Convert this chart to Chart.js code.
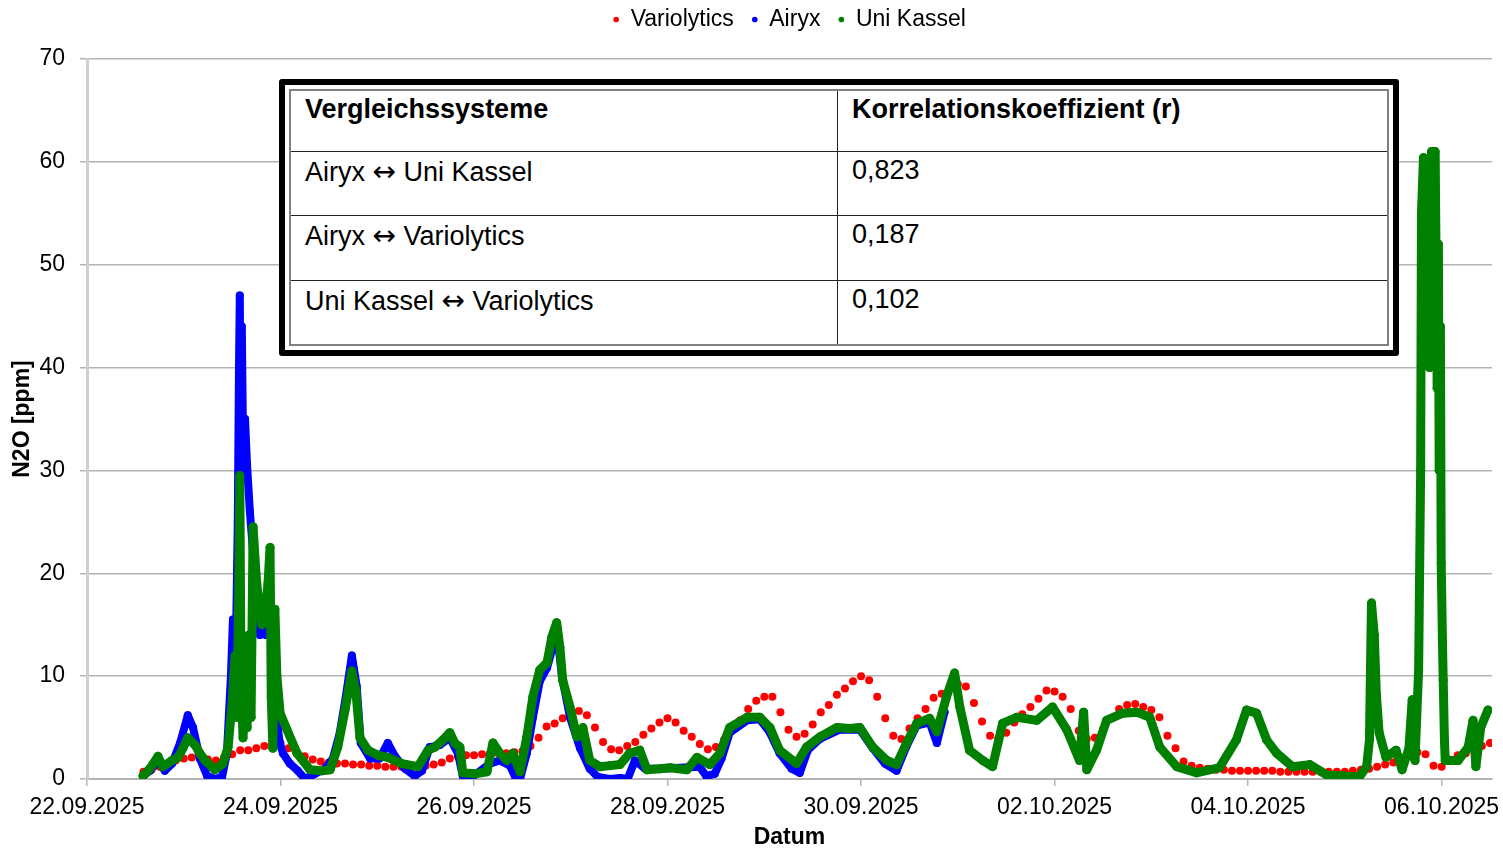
<!DOCTYPE html>
<html>
<head>
<meta charset="utf-8">
<script src="https://cdn.jsdelivr.net/npm/chart.js@4"></script>
<style>
  html, body { margin: 0; padding: 0; background: #fff; }
  #wrap { position: relative; width: 1503px; height: 849px; }
  #tabelle {
    position: absolute; left: 279px; top: 79px; width: 1120px; height: 277px;
    box-sizing: border-box; border: 6px solid #000; border-radius: 3px;
    background: #fff; padding: 4px;
  }
  #tabelle table {
    width: 100%; height: 100%; border-collapse: collapse; border: 2px solid #808080;
    font-family: 'Liberation Sans', Arial, sans-serif; font-size: 27px; color: #000;
  }
  #tabelle td, #tabelle th {
    border: 1.5px solid #222; vertical-align: top; text-align: left;
    padding: 3px 14px; font-weight: normal;
  }
  #tabelle th { font-weight: bold; }
  #tabelle .pfeil { font-family: 'DejaVu Sans', sans-serif; font-size: 28px; }
</style>
</head>
<body>
<div id="wrap">
  <canvas id="diagramm" width="1503" height="849"></canvas>
  <div id="tabelle"></div>
</div>
<script>
// ---------------- Daten (Stunden ab 22.09.2025 00:00) ----------------

const datumLabels = ['22.09.2025', '24.09.2025', '26.09.2025', '28.09.2025',
                     '30.09.2025', '02.10.2025', '04.10.2025', '06.10.2025'];

const zeitVariolytics = [14, 16, 18, 20, 22, 24, 26, 28, 30, 32, 34, 36, 38, 40, 42, 44, 46, 48, 50, 52,
  54, 56, 58, 60, 62, 64, 66, 68, 70, 72, 74, 76, 78, 80, 82, 84, 86, 88, 90, 92,
  94, 96, 98, 100, 102, 104, 106, 108, 110, 112, 114, 116, 118, 120, 122, 124, 126, 128, 130, 132,
  134, 136, 138, 140, 142, 144, 146, 148, 150, 152, 154, 156, 158, 160, 162, 164, 166, 168, 170, 172,
  174, 176, 178, 180, 182, 184, 186, 188, 190, 192, 194, 196, 198, 200, 202, 204, 206, 208, 210, 212,
  214, 216, 218, 220, 222, 224, 226, 228, 230, 232, 234, 236, 238, 240, 242, 244, 246, 248, 250, 252,
  254, 256, 258, 260, 262, 264, 266, 268, 270, 272, 274, 276, 278, 280, 282, 284, 286, 288, 290, 292,
  294, 296, 298, 300, 302, 304, 306, 308, 310, 312, 314, 316, 318, 320, 322, 324, 326, 328, 330, 332,
  334, 336, 338, 340, 342, 344, 346, 348];
const werteVariolytics = [0.7, 0.9, 1.2, 1.5, 1.8, 2.0, 2.1, 2.0, 1.9, 1.8, 2.1, 2.4, 2.8, 2.8, 3.0, 3.2, 3.4, 3.5, 3.0, 2.5,
  2.2, 1.9, 1.7, 1.6, 1.5, 1.5, 1.4, 1.4, 1.3, 1.3, 1.2, 1.2, 1.2, 1.2, 1.2, 1.3, 1.4, 1.6, 2.0, 2.2,
  2.3, 2.3, 2.4, 2.5, 2.5, 2.5, 2.6, 2.7, 3.2, 4.0, 5.1, 5.4, 5.9, 6.3, 6.6, 6.2, 5.0, 3.6, 2.9, 2.8,
  3.2, 3.6, 4.3, 4.9, 5.5, 5.9, 5.5, 4.7, 4.1, 3.4, 2.9, 3.1, 3.8, 5.0, 5.7, 6.8, 7.6, 8.0, 8.0, 6.5,
  4.8, 4.1, 4.4, 5.3, 6.5, 7.2, 8.2, 8.8, 9.5, 10.0, 9.6, 8.0, 5.9, 4.2, 3.9, 4.9, 5.9, 6.8, 7.9, 8.3,
  8.9, 9.2, 9.0, 7.4, 5.6, 4.2, 3.9, 4.5, 5.5, 6.3, 7.0, 7.8, 8.6, 8.5, 8.0, 6.8, 4.7, 3.9, 4.0, 4.8,
  5.9, 6.8, 7.2, 7.3, 7.0, 6.7, 6.0, 4.2, 3.0, 1.7, 1.3, 1.1, 1.0, 0.9, 0.9, 0.8, 0.8, 0.8, 0.8, 0.8,
  0.8, 0.7, 0.7, 0.7, 0.7, 0.7, 0.7, 0.7, 0.7, 0.7, 0.8, 0.9, 1.0, 1.2, 1.4, 1.6, 2.0, 2.2, 2.6, 2.4,
  1.3, 1.2, 1.9, 2.3, 2.5, 2.8, 3.2, 3.5];

const zeitAiryx = [13.9, 15.6, 17.6, 19.3, 21.1, 23.1, 25.0, 26.3, 28.0, 29.8, 31.7, 33.5, 34.7, 35.7, 36.2, 36.9,
  37.4, 37.7, 37.9, 38.2, 38.4, 38.7, 39.2, 39.7, 40.4, 41.2, 41.9, 42.9, 43.6, 44.4, 45.4, 46.2,
  47.0, 47.8, 48.6, 50.3, 52.3, 54.1, 56.5, 59.0, 61.0, 62.7, 64.2, 65.7, 66.9, 67.9, 70.2, 72.6,
  74.6, 76.4, 78.9, 81.3, 83.1, 85.0, 87.5, 90.0, 92.0, 93.2, 96.2, 99.9, 102.4, 104.9, 106.1, 107.4,
  109.1, 110.6, 112.3, 114.1, 115.3, 116.5, 117.8, 119.8, 122.3, 124.7, 126.7, 129.7, 132.2, 134.1, 135.9, 138.4,
  142.1, 151.9, 153.6, 155.7, 157.4, 159.4, 163.7, 166.9, 169.4, 171.8, 174.8, 176.8, 178.8, 181.8, 186.7, 191.7,
  194.9, 197.9, 200.8, 203.3, 205.8, 209.0, 210.8, 212.7];
const werteAiryx = [0.3, 0.8, 1.8, 0.8, 1.5, 3.5, 6.2, 5.0, 2.0, 0.3, 0, 0.2, 2.5, 10, 15.5, 12,
  25, 40, 47, 30, 44, 33, 35, 30.5, 26, 22, 17, 14, 15.5, 14, 16, 13,
  6, 3.5, 2.5, 1.5, 0.8, 0, 0.5, 1.0, 2.0, 4.5, 8, 12, 9, 3.5, 2.0, 2.0,
  3.5, 2.2, 1.0, 0.3, 0.8, 3.1, 3.3, 4.0, 2.5, 0.3, 0.4, 1.5, 1.8, 1.3, 0.3, 0,
  2.5, 6, 9.5, 10.8, 12.5, 14.5, 10, 6, 3, 1.0, 0.2, 0, 0.1, 0, 1.8, 1.0,
  1.0, 1.2, 0.3, 0.5, 2.0, 4.5, 5.7, 5.8, 4.5, 2.5, 1.0, 0.6, 2.8, 3.9, 4.8, 4.8,
  3.0, 1.5, 0.8, 3.2, 5.2, 5.5, 3.5, 6.5];

const zeitUniKassel = [13.9, 15.6, 17.6, 18.8, 21.1, 22.6, 23.8, 25.0, 26.8, 28.0, 29.3, 31.7, 33.7, 35.0, 36.0, 36.7,
  37.2, 37.7, 37.9, 38.2, 38.7, 39.2, 39.7, 40.2, 40.7, 41.2, 41.9, 42.6, 43.4, 44.1, 44.9, 45.4,
  45.7, 46.1, 46.6, 47.1, 47.9, 49.6, 52.1, 55.3, 58.3, 60.3, 62.2, 64.0, 65.7, 66.7, 67.7, 69.7,
  72.2, 74.6, 78.1, 82.1, 84.6, 86.3, 88.3, 90.0, 91.2, 92.5, 93.2, 96.2, 99.2, 100.7, 102.4, 104.1,
  105.6, 107.4, 109.1, 110.6, 112.3, 114.1, 115.3, 116.5, 117.3, 118.0, 119.8, 121.5, 123.0, 124.7, 127.2, 129.7,
  132.2, 134.6, 137.1, 138.9, 142.1, 144.6, 148.8, 151.3, 154.5, 157.0, 159.4, 163.7, 166.9, 169.4, 171.8, 176.0,
  178.5, 181.8, 186.0, 189.2, 191.7, 194.9, 198.4, 200.8, 203.3, 205.8, 209.0, 210.8, 213.2, 215.2, 216.5, 218.9,
  222.2, 224.6, 227.1, 230.6, 235.6, 239.5, 243.0, 246.2, 247.2, 248.0, 250.4, 252.9, 256.9, 260.4, 263.6, 266.1,
  270.3, 275.2, 280.9, 285.1, 287.6, 290.1, 292.6, 295.1, 299.0, 303.3, 307.5, 311.9, 315.6, 317.4, 318.1, 318.6,
  319.3, 319.8, 320.5, 322.2, 324.7, 326.2, 327.9, 328.7, 329.4, 330.3, 330.8, 331.0, 331.5, 332.0, 332.5, 333.0,
  333.5, 334.0, 334.4, 334.9, 335.2, 335.4, 335.7, 335.9, 336.2, 336.4, 336.7, 336.9, 340.1, 342.6, 343.8, 344.5,
  345.7, 347.5];
const werteUniKassel = [0.3, 1.0, 2.2, 1.2, 1.8, 2.1, 3.0, 4.0, 3.3, 2.5, 1.8, 0.9, 1.5, 3.1, 7.4, 12,
  6, 20, 29.5, 10, 4, 8, 5, 14, 6, 24.5, 20, 17, 15, 16, 19, 22.5,
  8, 3, 16.5, 10, 6.4, 4.8, 2.5, 0.9, 0.8, 0.9, 3.1, 6.7, 10.5, 8.5, 4, 2.8,
  2.3, 2.1, 1.5, 1.2, 2.8, 3.1, 3.8, 4.5, 3.5, 3.1, 0.6, 0.5, 0.7, 3.5, 2.5, 1.8,
  2.5, 0.7, 4.1, 8.0, 10.6, 11.3, 13.8, 15.2, 12.8, 9.6, 7.0, 4.1, 5.0, 1.8, 1.2, 1.3,
  1.4, 2.5, 2.8, 0.9, 1.0, 1.1, 0.9, 2.1, 1.4, 2.5, 5.0, 6.0, 6.0, 5.0, 2.8, 1.5,
  3.1, 4.1, 5.0, 4.9, 5.0, 3.1, 1.8, 1.4, 3.5, 5.4, 5.9, 4.6, 8.0, 10.3, 7.0, 2.8,
  1.8, 1.2, 5.4, 6.0, 5.7, 7.0, 4.8, 1.8, 6.5, 0.9, 2.8, 5.7, 6.4, 6.5, 6.0, 3.1,
  1.2, 0.6, 1.1, 3.8, 6.7, 6.4, 3.8, 2.5, 1.2, 1.4, 0.4, 0.3, 0.2, 1.2, 3.8, 17.1,
  14, 8.3, 4.5, 2.1, 2.8, 0.9, 3, 7.7, 1.8, 10.6, 30, 55, 60.4, 45, 58, 40,
  61, 48, 61, 38, 52, 30, 44, 21, 13.5, 9.6, 3.8, 1.8, 1.8, 3.1, 5.7, 1.2,
  5.0, 6.7];

const vergleichssysteme = [['Airyx', 'Uni Kassel'], ['Airyx', 'Variolytics'], ['Uni Kassel', 'Variolytics']];
const korrelation = ['0,823', '0,187', '0,102'];

// ---------------- Tabelle ----------------

let html = '<table><tr><th style="width:518px">Vergleichssysteme</th><th>Korrelationskoeffizient (r)</th></tr>';
vergleichssysteme.forEach((paar, i) => {
  html += '<tr><td>' + paar[0] + ' <span class="pfeil">\u2194</span> ' + paar[1] + '</td><td>' + korrelation[i] + '</td></tr>';
});
html += '</table>';
document.getElementById('tabelle').innerHTML = html;

// ---------------- Diagramm ----------------

const schrift = "'Liberation Sans', Arial, sans-serif";

function punkte(zeit, werte) {
  return zeit.map((t, i) => ({ x: t, y: werte[i] }));
}

// mehr Platz unter der Legende
const legendeAbstand = {
  id: 'legendeAbstand',
  afterInit(chart) {
    const legende = chart.legend;
    const fit = legende.fit;
    legende.fit = function () { fit.call(this); this.height += 18; };
  }
};

let diagramm = new Chart(document.getElementById('diagramm'), {
  type: 'scatter',
  plugins: [legendeAbstand],
  data: {
    datasets: [
      {
        label: 'Variolytics',
        data: punkte(zeitVariolytics, werteVariolytics),
        backgroundColor: '#ff0000',
        borderColor: '#ff0000',
        pointRadius: 4,
        pointBorderWidth: 0,
        order: 3
      },
      {
        label: 'Airyx',
        data: punkte(zeitAiryx, werteAiryx),
        showLine: true,
        backgroundColor: '#0000ff',
        borderColor: '#0000ff',
        borderWidth: 8,
        borderJoinStyle: 'round',
        borderCapStyle: 'round',
        pointRadius: 4,
        pointBorderWidth: 0,
        order: 2
      },
      {
        label: 'Uni Kassel',
        data: punkte(zeitUniKassel, werteUniKassel),
        showLine: true,
        backgroundColor: '#008000',
        borderColor: '#008000',
        borderWidth: 9,
        borderJoinStyle: 'round',
        borderCapStyle: 'round',
        pointRadius: 4.5,
        pointBorderWidth: 0,
        order: 1
      }
    ]
  },
  options: {
    responsive: false,
    animation: false,
    devicePixelRatio: 1,
    layout: { padding: { left: 0, right: 11, top: -10, bottom: 0 } },
    plugins: {
      tooltip: { enabled: false },
      legend: {
        position: 'top',
        fullSize: false,
        labels: {
          usePointStyle: true,
          pointStyle: 'circle',
          boxWidth: 6,
          boxHeight: 4,
          padding: 18,
          color: '#000',
          font: { family: schrift, size: 23 },
          sort: (a, b) => a.datasetIndex - b.datasetIndex,
          generateLabels(chart) {
            const items = Chart.defaults.plugins.legend.labels.generateLabels(chart);
            items.forEach(it => { it.lineWidth = 0; it.strokeStyle = it.fillStyle; });
            return items;
          }
        }
      }
    },
    scales: {
      x: {
        type: 'linear',
        min: 0,
        max: 348.5,
        afterBuildTicks(scale) {
          scale.ticks = datumLabels.map((l, i) => ({ value: i * 48 }));
        },
        afterFit(scale) {
          scale.height = 70;
          scale.paddingRight = 0;
          scale.paddingLeft = 0;
        },
        ticks: {
          callback: (v) => datumLabels[Math.round(v / 48)],
          autoSkip: false,
          maxRotation: 0,
          padding: 8,
          color: '#000',
          font: { family: schrift, size: 23 }
        },
        grid: { drawOnChartArea: false, tickLength: 7, color: '#b4b4b4', lineWidth: 1.5 },
        border: { color: '#b4b4b4', width: 2 },
        title: {
          display: true,
          text: 'Datum',
          color: '#000',
          font: { family: schrift, size: 23, weight: 'bold', lineHeight: 1 },
          padding: { top: 0, bottom: 0 }
        }
      },
      y: {
        min: 0,
        max: 70,
        afterFit(scale) { scale.width = 87; },
        ticks: {
          stepSize: 10,
          padding: 15,
          color: '#000',
          font: { family: schrift, size: 23 }
        },
        grid: { color: '#b4b4b4', lineWidth: 1.5, tickLength: 7 },
        border: { color: '#cfcfcf', width: 3 },
        title: {
          display: true,
          text: 'N2O [ppm]',
          color: '#000',
          font: { family: schrift, size: 23, weight: 'bold' },
          padding: { top: 9, bottom: 0 }
        }
      }
    }
  }
});
</script>
</body>
</html>
